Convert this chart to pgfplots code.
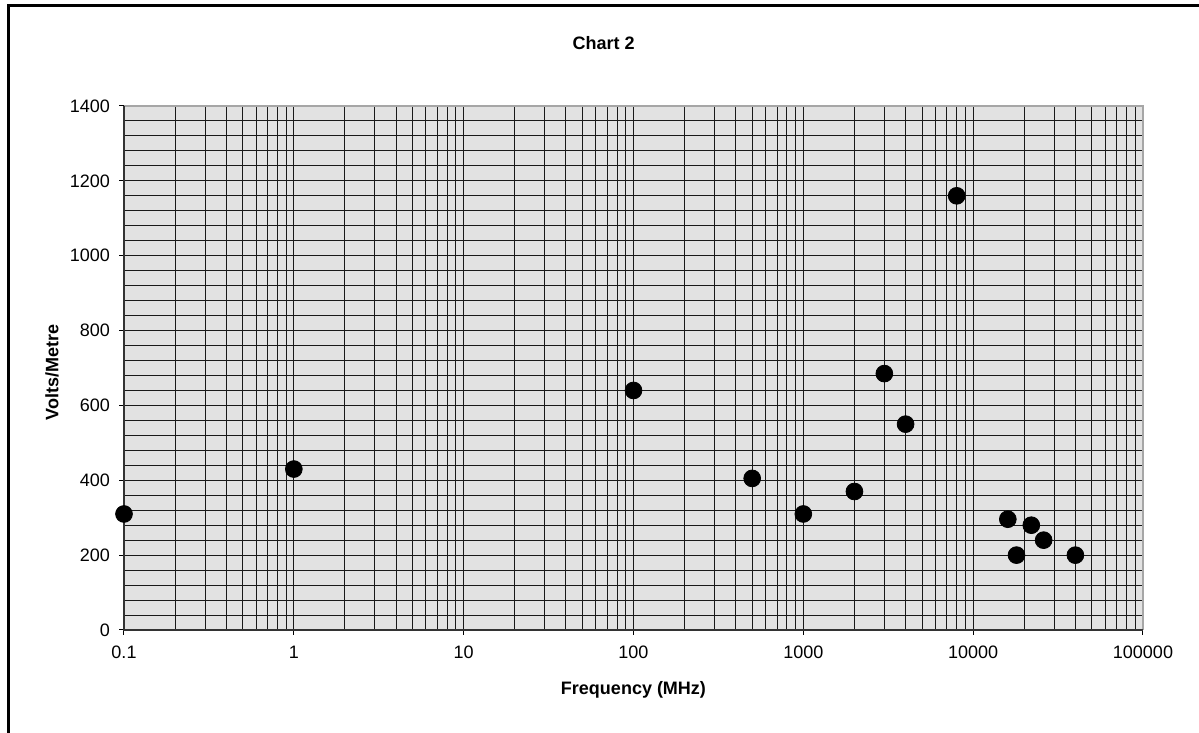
\documentclass[border=0pt]{standalone}
\usepackage{pgfplots}
\pgfplotsset{compat=1.18}
\usepackage{fontspec}
\setmainfont{Liberation Sans}
\definecolor{plotbg}{RGB}{226,226,226}
\definecolor{gridc}{RGB}{25,25,25}

\begin{document}
\begin{tikzpicture}
  % page = 1199x733 px at 0.5pt per px
  \useasboundingbox (0,0) rectangle (599.5pt,366.5pt);
  \draw[line width=1.2pt] (4.2pt,-20pt) rectangle (640pt,363.7pt);
  \begin{axis}[
    at={(62pt,51.5pt)}, anchor=south west,
    scale only axis, width=509.5pt, height=262pt,
    xmode=log, log basis x=10,
    xmin=0.1, xmax=100000, ymin=0, ymax=1400,
    xtick={0.1,1,10,100,1000,10000,100000},
    xticklabels={0.1,1,10,100,1000,10000,100000},
    minor xtick={0.2,0.3,0.4,0.5,0.6,0.7,0.8,0.9,
                 2,3,4,5,6,7,8,9,20,30,40,50,60,70,80,90,
                 200,300,400,500,600,700,800,900,
                 2000,3000,4000,5000,6000,7000,8000,9000,
                 20000,30000,40000,50000,60000,70000,80000,90000},
    ytick={0,200,...,1400},
    minor y tick num=4,
    grid=both,
    major grid style={gridc, line width=0.6pt},
    minor grid style={gridc, line width=0.5pt},
    axis background/.style={fill=plotbg},
    axis line style={draw=none},
    tick pos=left, tick align=outside,
    major tick length=2.5pt, minor tick length=0pt,
    tick style={black, line width=0.5pt},
    tick label style={font=\fontsize{9}{10}\selectfont},
    /pgf/number format/assume math mode=true,
    /pgf/number format/1000 sep={},
    xticklabel style={yshift=-2pt},
    yticklabel style={xshift=-1pt},
    title={\bfseries Chart 2},
    title style={font=\fontsize{9}{10}\selectfont, at={(axis description cs:0.4706,1.097)}, anchor=center},
    xlabel={\bfseries Frequency (MHz)},
    ylabel={\bfseries Volts/Metre},
    label style={font=\fontsize{9}{10}\selectfont},
    x label style={at={(axis description cs:0.5,-0.1145)}, anchor=center},
    y label style={at={(axis description cs:-0.0707,0.492)}, anchor=center, rotate=0},
    clip=false,
  ]
    \addplot[only marks, mark=*, mark size=4.2pt, mark options={fill=black, draw=black}]
      coordinates {
        (0.1,310) (1,430) (100,640) (500,405) (1000,310) (2000,370)
        (3000,685) (4000,550) (8000,1160) (16000,296) (18000,200)
        (22000,280) (26000,240) (40000,200)
      };
    % plot area frame: dark left/bottom, light top/right
    \draw[gray!70, line width=0.8pt] (rel axis cs:0,1) -- (rel axis cs:1,1) -- (rel axis cs:1,0);
    \draw[black!80, line width=0.8pt] (rel axis cs:0,1) -- (rel axis cs:0,0) -- (rel axis cs:1,0);
  \end{axis}
\end{tikzpicture}
\end{document}
